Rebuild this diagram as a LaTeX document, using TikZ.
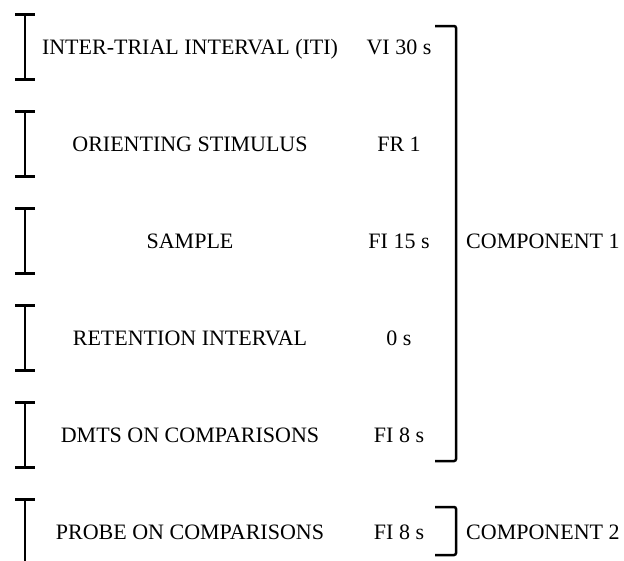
\documentclass[tikz,border=0pt]{standalone}
\usepackage{fontspec}
\setmainfont{Liberation Serif}
\newfontfamily\timesfont{Liberation Serif}
\usepackage{tikz}
\usetikzlibrary{calc}

\begin{document}
\begin{tikzpicture}[x=1pt,y=-1pt,
        phase/.style={anchor=base, inner sep=0pt, font=\timesfont\fontsize{22}{26}\selectfont},
        comp/.style={anchor=base west, inner sep=0pt, font=\timesfont\fontsize{22}{26}\selectfont},
        ibar/.style={line width=2.5pt},
        brack/.style={line width=2.5pt, rounded corners=2pt}]
        \useasboundingbox (0,0) rectangle (624,560);
        % one row per phase: bar on the left, name, schedule
        \foreach \y/\name/\txt/\sched in {
                47/iti/{INTER-TRIAL INTERVAL (ITI)}/{VI 30 s},
                144/orient/{ORIENTING STIMULUS}/{FR 1},
                241/sample/{SAMPLE}/{FI 15 s},
                338/retain/{RETENTION INTERVAL}/{0 s},
                435/dmts/{DMTS ON COMPARISONS}/{FI 8 s},
                532/probe/{PROBE ON COMPARISONS}/{FI 8 s}}
        {
            \draw[ibar] (15,\y-32.5) -- (35,\y-32.5) (25,\y-32.5) -- (25,\y+32.5) (15,\y+32.5) -- (35,\y+32.5);
            \node[phase] (\name) at (190,\y+7.5) {\txt};
            \node[phase] (\name-s) at (399,\y+7.5) {\sched};
        }
        \coordinate (c1top) at (435,26);
        \coordinate (c1bot) at (435,461);
        \coordinate (c2top) at (435,507);
        \coordinate (c2bot) at (435,555);
        \draw[brack] (c1top) -- ++(21,0) |- (c1bot);
        \draw[brack] (c2top) -- ++(21,0) |- (c2bot);
        \node[comp] (comp1) at (466,248.5) {COMPONENT 1};
        \node[comp] (comp2) at (466,539.5) {COMPONENT 2};
\end{tikzpicture}
\end{document}
